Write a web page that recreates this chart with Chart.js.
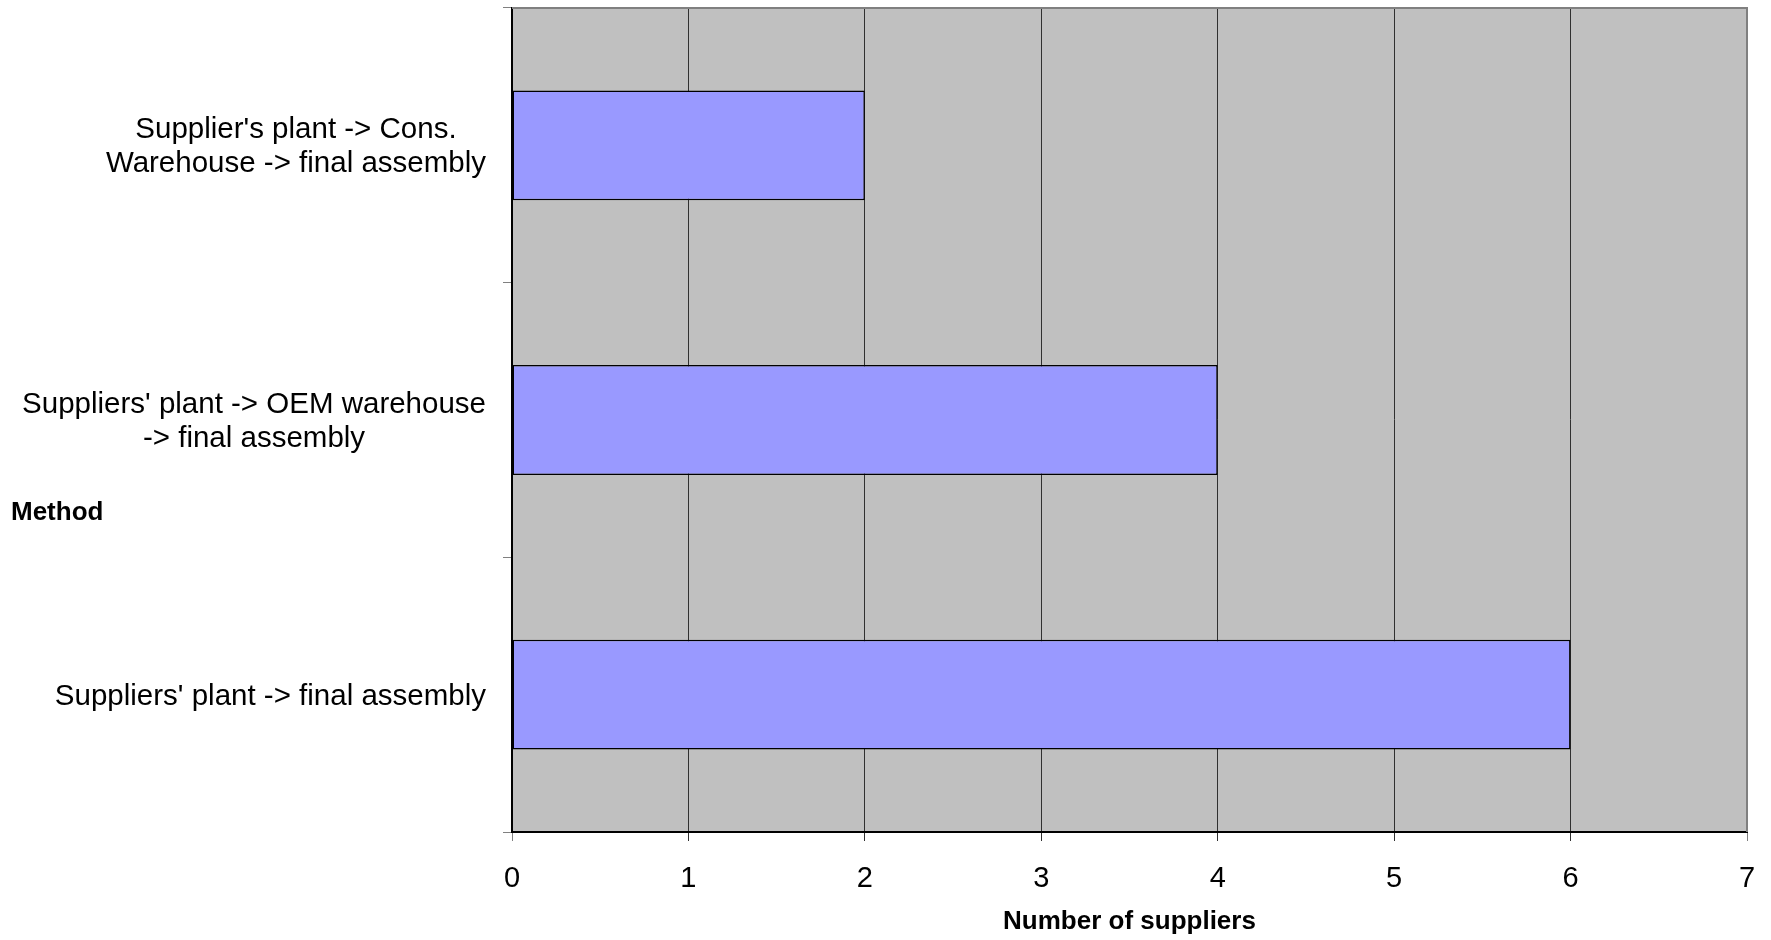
<!DOCTYPE html>
<html>
<head>
<meta charset="utf-8">
<script src="https://cdn.jsdelivr.net/npm/chart.js@4"></script>
<style>
  html,body{margin:0;padding:0;background:#fff;}
  #wrap{width:1771px;height:940px;}
</style>
</head>
<body>
<div id="wrap"><canvas id="chart" width="1771" height="940"></canvas></div>
<script>
/* ---------- datos ---------- */
const methods = [
  ["Supplier's plant -> Cons.", "Warehouse -> final assembly"],
  ["Suppliers' plant -> OEM warehouse", "-> final assembly"],
  ["Suppliers' plant -> final assembly"]
];
const suppliers = [2, 4, 6];
const xTicks    = [0, 1, 2, 3, 4, 5, 6, 7];
const xTitle    = 'Number of suppliers';
const yTitle    = 'Method';

const FONT = '"Liberation Sans", Arial, sans-serif';

/* ---------- fondo gris + borde ---------- */
const plotBg = {
  id:'plotBg',
  beforeDraw(chart){
    const {ctx, chartArea:a} = chart;
    ctx.save();
    ctx.fillStyle = '#c0c0c0';
    ctx.fillRect(a.left, a.top, a.right-a.left, a.bottom-a.top);
    ctx.restore();
  },
  afterDraw(chart){
    const {ctx, chartArea:a} = chart;
    ctx.save();
    ctx.strokeStyle = '#808080'; ctx.lineWidth = 2;
    ctx.beginPath();
    ctx.moveTo(a.left, a.top); ctx.lineTo(a.right, a.top); ctx.lineTo(a.right, a.bottom);
    ctx.stroke();
    ctx.restore();
  }
};

/* ---------- etiquetas de categoria (bloque alineado a la derecha, lineas centradas) ---------- */
const methodLabels = {
  id:'methodLabels',
  afterDraw(chart){
    const {ctx, chartArea:a} = chart;
    const y = chart.scales.y;
    const LH = 34;
    ctx.save();
    ctx.fillStyle = '#000';
    ctx.font = `29.5px ${FONT}`;
    ctx.textAlign = 'center'; ctx.textBaseline = 'middle';
    methods.forEach((lines,i)=>{
      const w  = Math.max(...lines.map(l=>ctx.measureText(l).width));
      const cx = a.left - 26 - w/2;
      const cy = y.getPixelForTick(i) + 2;
      lines.forEach((l,j)=>ctx.fillText(l, cx, cy + (j-(lines.length-1)/2)*LH));
    });
    ctx.font = `bold 26px ${FONT}`;
    ctx.textAlign = 'left';
    ctx.fillText(yTitle, 11, 513);
    ctx.restore();
  }
};

new Chart(document.getElementById('chart'), {
  type:'bar',
  data:{
    labels: methods.map(l=>l.join(' ')),
    datasets:[{
      data: suppliers,
      backgroundColor:'#9999ff',
      borderColor:'#000',
      borderWidth:1.5,
      borderSkipped:false,
      categoryPercentage:1,
      barPercentage:0.4
    }]
  },
  options:{
    indexAxis:'y',
    responsive:false,
    animation:false,
    layout:{padding:{left:0, right:24, top:8, bottom:0}},
    plugins:{legend:{display:false}, tooltip:{enabled:false}},
    scales:{
      x:{
        min:xTicks[0], max:xTicks[xTicks.length-1],
        afterBuildTicks: s => { s.ticks = xTicks.map(v=>({value:v})); },
        afterFit: s => { s.height = 108; s.paddingLeft = 0; s.paddingRight = 0; },
        grid:{
          color: c => (c.index===xTicks.length-1 || c.index===0) ? '#808080' : '#303030',
          lineWidth:1, tickLength:9
        },
        border:{color:'#000', width:2},
        ticks:{font:{family:FONT, size:29}, color:'#000', padding:21},
        title:{display:true, text:xTitle, color:'#000',
               font:{family:FONT, size:26, weight:'bold'}, padding:{top:0, bottom:3}}
      },
      y:{
        afterFit: s => { s.width = 512; },
        grid:{drawOnChartArea:false, color:'#808080', tickLength:9, offset:true},
        border:{color:'#000', width:2},
        ticks:{display:false}
      }
    }
  },
  plugins:[plotBg, methodLabels]
});
</script>
</body>
</html>
